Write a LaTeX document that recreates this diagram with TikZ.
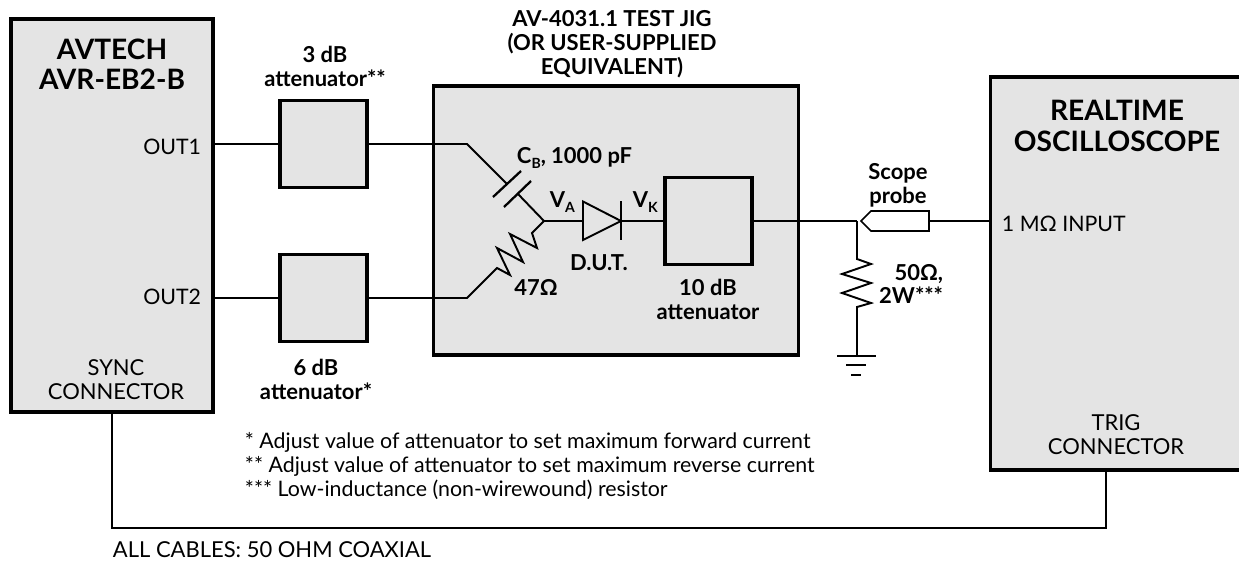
\documentclass[tikz,border=0pt]{standalone}
\usepackage{fontspec}
\setmainfont{Lato}
\definecolor{boxgray}{HTML}{E4E4E4}
\newcommand{\subl}[1]{\raisebox{-0.45ex}{\fontsize{8}{8}\selectfont #1}}
\begin{document}
\begin{tikzpicture}[x=0.02cm,y=-0.02cm,line width=1.1pt,line join=miter]
  \tikzstyle{box}=[draw,line width=2.1pt,fill=boxgray,inner sep=0pt]
  \tikzstyle{att}=[box,minimum width=1.74cm,minimum height=1.74cm]
  \tikzstyle{txt}=[align=center,inner sep=0pt,font=\fontsize{12.5}{13.6}\selectfont]
  \tikzstyle{note}=[align=left,inner sep=0pt,font=\fontsize{12.15}{13.6}\selectfont]
  \tikzstyle{bld}=[align=center,inner sep=0pt,font=\fontsize{12.5}{13.6}\selectfont\bfseries]
  \tikzstyle{big}=[align=center,inner sep=0pt,font=\fontsize{16}{17.2}\selectfont\bfseries]
  \useasboundingbox (0,0) rectangle (1239,561);
  % boxes
  \node[box,minimum width=4.04cm,minimum height=7.86cm] (avr) at (112,215.5) {};
  \node[box,minimum width=7.3cm,minimum height=5.38cm] (jig) at (616,220.5) {};
  \node[box,minimum width=5.1cm,minimum height=7.86cm] (scope) at (1118,273.5) {};
  \node[att] (att1) at (323.5,144) {};
  \node[att] (att2) at (323.5,298) {};
  \node[att] (att3) at (708.5,221) {};
  % cables
  \coordinate (c1) at (467,144);
  \coordinate (c2) at (467,298);
  \coordinate (ja) at (544,221);
  \coordinate (sync) at (112,412);
  \coordinate (trig) at (1106,470);
  \draw (avr.east |- att1) -- (att1);
  \draw (avr.east |- att2) -- (att2);
  \draw (att1) -- (c1) -- (507,184);
  \draw (518,194) -- (ja);
  \draw[line width=1.3pt] (493,197) -- (521,171);
  \draw[line width=1.3pt] (504,207) -- (531,181);
  \draw (att2) -- (c2) -- (497,268) -- (510,275) -- (497,248) -- (523,262) -- (510,234) -- (537,248) -- (532,233) -- (ja);
  % diode
  \coordinate (da) at (583,221);
  \coordinate (dk) at (621,221);
  \draw (ja) -- (da);
  \draw (583,201.5) -- (dk) -- (583,240) -- cycle;
  \draw[line width=1.3pt] (621,201) -- (621,240);
  \draw (dk) -- (att3);
  % probe and load
  \coordinate (nd) at (857,221);
  \coordinate (gnd) at (857,356);
  \coordinate (ptip) at (861,221);
  \coordinate (pend) at (929,221);
  \draw (att3) -- (nd);
  \draw[fill=white,line width=0.9pt] (ptip) -- (871,211) -- (929,211) -- (929,231) -- (871,231) -- cycle;
  \draw (pend) -- (pend -| scope.west);
  \draw (nd) -- (857,259) -- (871,264) -- (842,274) -- (871,283) -- (842,293) -- (871,303) -- (857,307) -- (gnd);
  \draw (837,356) -- (876,356);
  \draw (846,365) -- (866,365);
  \draw (851,375) -- (861,375);
  % sync cable
  \draw (sync) -- (112,528) -- (1106,528) -- (trig);
  % labels
  \node[big] (avrt) at (112,64) {AVTECH\\AVR-EB2-B};
  \node[big] (scopet) at (1117,126) {REALTIME\\OSCILLOSCOPE};
  \node[note,anchor=east] (o1) at (202,147) {OUT1};
  \node[note,anchor=east] (o2) at (202,297) {OUT2};
  \node[txt] (syncl) at (116,380) {SYNC\\CONNECTOR};
  \node[txt] (trigl) at (1116,435) {TRIG\\CONNECTOR};
  \node[note,anchor=west] (inp) at (1001,224) {1 MΩ INPUT};
  \node[bld] (t1) at (325,66) {3 dB\\attenuator**};
  \node[bld] (t2) at (316,379) {6 dB\\attenuator*};
  \node[bld] (t3) at (708,299) {10 dB\\attenuator};
  \node[bld] (jigt) at (612,44) {AV-4031.1 TEST JIG\\(OR USER-SUPPLIED\\EQUIVALENT)};
  \node[bld,anchor=base west] (cb) at (516,163) {C\subl{B}, 1000 pF};
  \node[bld,anchor=base west] (va) at (549,207) {V\subl{A}};
  \node[bld,anchor=base west] (vk) at (632,207) {V\subl{K}};
  \node[bld] (dut) at (599,263) {D.U.T.};
  \node[bld] (r47) at (536,287) {47Ω};
  \node[bld] (probel) at (898,185) {Scope\\probe};
  \node[bld,align=right,anchor=east] (r50) at (944,284) {50Ω,\\2W***};
  \node[note,anchor=west] (notes) at (244,466) {* Adjust value of attenuator to set maximum forward current\\** Adjust value of attenuator to set maximum reverse current\\*** Low-inductance (non-wirewound) resistor};
  \node[txt,anchor=west] (all) at (112,550) {ALL CABLES: 50 OHM COAXIAL};
\end{tikzpicture}
\end{document}
